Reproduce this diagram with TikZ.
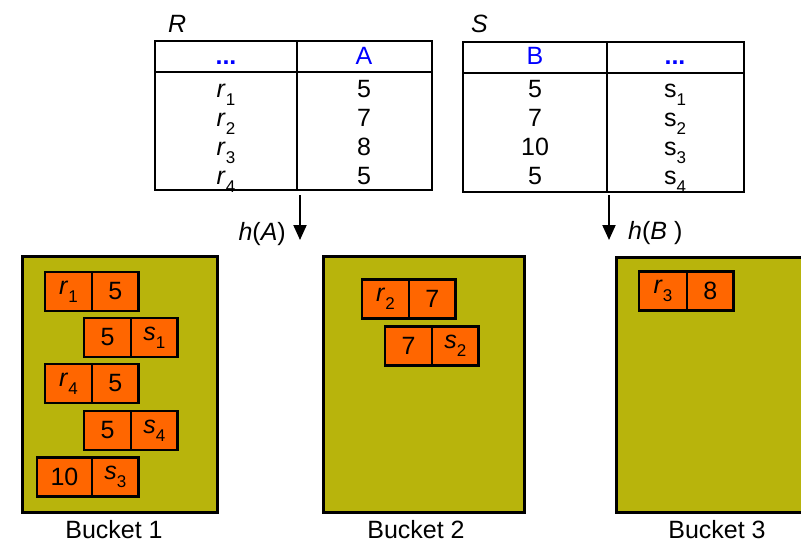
\documentclass[tikz,border=0pt]{standalone}
\usepackage{fontspec}
\setmainfont{Liberation Sans}
\usepackage{xcolor}
\usetikzlibrary{positioning,arrows.meta}

\definecolor{bucketgreen}{RGB}{184,180,12}
\definecolor{tupleorange}{RGB}{255,102,0}
\definecolor{headblue}{RGB}{0,0,255}
\newcommand{\lowsub}[1]{\raisebox{-0.32em}{\fontsize{17}{17}\selectfont #1}}

\begin{document}
\begin{tikzpicture}[x=1pt,y=-1pt]
        \tikzstyle{every node} = [font=\fontsize{25}{29}\selectfont, inner sep=0pt]
        \tikzstyle{bucket} = [draw, line width=3pt, fill=bucketgreen]
        \tikzstyle{cell} = [draw, line width=2.5pt, fill=tupleorange, minimum height=39pt, outer sep=0pt]
        \tikzstyle{hasharrow} = [line width=2pt, -{Triangle[width=13pt,length=15pt]}]
        \useasboundingbox (0,0) rectangle (801,542);

        % relations R and S
        \node[anchor=base west] (rname) at (168,32) {\textit{R}};
        \node[anchor=base west] (sname) at (471,32) {\textit{S}};
        \draw[line width=1.5pt] (155,41) rectangle (432,190);
        \draw[line width=1.5pt] (155,72) -- (432,72) (297,41) -- (297,190);
        \draw[line width=1.5pt] (463,42) rectangle (744,192);
        \draw[line width=1.5pt] (463,73) -- (744,73) (607,42) -- (607,192);
        \node[anchor=base, text=headblue] (rdots) at (226,64) {\textbf{...}};
        \node[anchor=base, text=headblue] (ra) at (364,64) {A};
        \node[anchor=base, text=headblue] (sb) at (535,64) {B};
        \node[anchor=base, text=headblue] (sdots) at (675,64) {\textbf{...}};
        \foreach \i/\y/\a/\b in {1/97/5/5, 2/126/7/7, 3/155/8/10, 4/184/5/5} {
            \node[anchor=base] (r\i) at (226,\y) {\textit{r}\lowsub{\i}};
            \node[anchor=base] (ra\i) at (364,\y) {\a};
            \node[anchor=base] (sb\i) at (535,\y) {\b};
            \node[anchor=base] (s\i) at (675,\y) {s\lowsub{\i}};
        }

        % hashing
        \coordinate (ha1) at (300,195);
        \coordinate (ha2) at (300,240);
        \coordinate (hb1) at (609,195);
        \coordinate (hb2) at (609,240);
        \draw[hasharrow] (ha1) -- (ha2);
        \draw[hasharrow] (hb1) -- (hb2);
        \node[anchor=base east] (hA) at (286,240) {\textit{h}(\textit{A})};
        \node[anchor=base west] (hB) at (628,239) {\textit{h}(\textit{B} )};

        % buckets
        \node[bucket, minimum width=195pt, minimum height=256pt] (b1) at (119.5,384) {};
        \node[bucket, minimum width=201pt, minimum height=256pt] (b2) at (423.5,384) {};
        \node[bucket, minimum width=192pt, minimum height=255pt] (b3) at (712,384.5) {};
        \node[anchor=base] (l1) at (114,538) {Bucket 1};
        \node[anchor=base] (l2) at (416,538) {Bucket 2};
        \node[anchor=base] (l3) at (717,538) {Bucket 3};

        % joined tuples
        \foreach \n/\x/\y/\w/\a/\b in {
            t1/68.5/291.5/47/{\textit{r}\lowsub{1}}/5,
            t2/107.5/337.5/47/5/{\textit{s}\lowsub{1}},
            t3/68.5/383.5/47/{\textit{r}\lowsub{4}}/5,
            t4/107.5/430.5/47/5/{\textit{s}\lowsub{4}},
            t5/64.5/477/55/10/{\textit{s}\lowsub{3}},
            t6/385.5/299/47/{\textit{r}\lowsub{2}}/7,
            t7/408.5/346/47/7/{\textit{s}\lowsub{2}},
            t8/663/291/48/{\textit{r}\lowsub{3}}/8} {
            \node[cell, minimum width=\w pt] (\n a) at (\x,\y) {\a};
            \node[cell, minimum width=46.5pt, right=0pt of \n a] (\n b) {\b};
        }
    \end{tikzpicture}
\end{document}
